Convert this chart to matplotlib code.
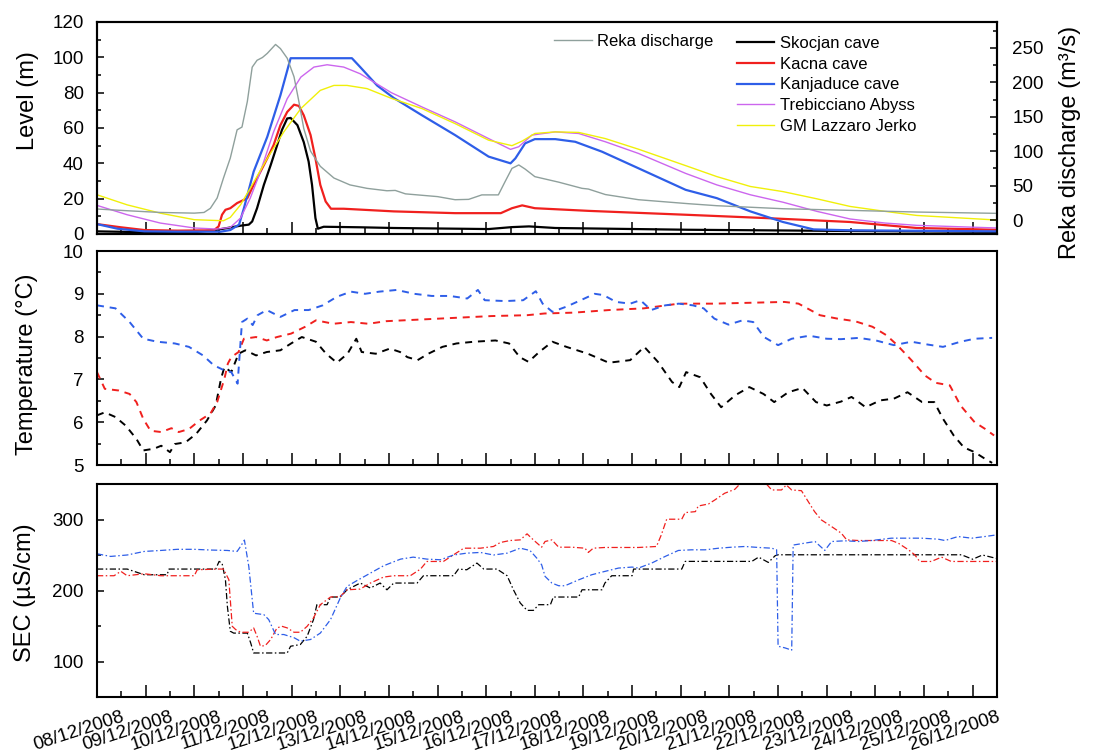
import matplotlib
matplotlib.use('Agg')
import matplotlib.pyplot as plt
from matplotlib.ticker import MultipleLocator
import matplotlib.transforms as mtransforms

plt.rcParams['font.family'] = ['Liberation Sans', 'DejaVu Sans']

# ---------------- data (x = days since 08/12/2008 00:00) ----------------
date_labels = ['08/12/2008', '09/12/2008', '10/12/2008', '11/12/2008', '12/12/2008',
               '13/12/2008', '14/12/2008', '15/12/2008', '16/12/2008', '17/12/2008',
               '18/12/2008', '19/12/2008', '20/12/2008', '21/12/2008', '22/12/2008',
               '23/12/2008', '24/12/2008', '25/12/2008', '26/12/2008']

# Reka discharge (m3/s)
reka_days = [0, 0.62, 1.3, 2.0, 2.2, 2.33, 2.47, 2.6, 2.74, 2.88, 2.98, 3.09, 3.19, 3.29, 3.4,
             3.5, 3.67, 3.77, 3.91, 4.05, 4.15, 4.25, 4.39, 4.59, 4.87, 5.2, 5.55, 5.96, 6.13, 6.34,
             7.0, 7.36, 7.64, 7.91, 8.25, 8.39, 8.53, 8.67, 8.8, 9.0, 9.49, 9.97, 10.1, 10.45, 11.13,
             12.16, 12.74, 14.1, 15.48, 16.85, 18.5]
reka_q = [16, 13.5, 11, 10, 11, 17, 32, 61, 90, 131, 135, 172, 222, 232, 236,
          242, 255, 249, 235, 208, 172, 133, 100, 78, 61, 51, 46, 42.5, 43, 38,
          34, 29.5, 30, 36.5, 36.5, 56, 75, 80, 74, 63, 55, 46, 45, 37, 29.5,
          23.7, 20.8, 16.4, 14, 11.6, 9.7]

# Levels (m)
sk_days = [0, 1.0, 2.0, 2.47, 2.68, 2.95, 3.12, 3.19, 3.29, 3.43, 3.57, 3.7, 3.8, 3.91, 3.98,
           4.12, 4.25, 4.35, 4.42, 4.49, 4.54, 4.66, 5.41, 6.1, 8.05, 8.53, 8.88, 9.42, 12.16, 15.0, 18.5]
sk_lvl = [1.5, 1.0, 1.0, 2.4, 3.4, 4.7, 5.3, 7.1, 14.6, 27.8, 39, 50, 58.8, 65.4, 65.7,
          61.6, 52, 41, 27.8, 9, 3, 4.1, 3.8, 3.4, 2.8, 3.9, 4.3, 3.4, 2.4, 1.8, 1.2]

ka_days = [0, 0.49, 0.97, 1.65, 2.4, 2.5, 2.57, 2.64, 2.74, 2.88, 2.98, 3.09, 3.22, 3.36, 3.5,
           3.63, 3.77, 3.91, 4.05, 4.15, 4.25, 4.39, 4.49, 4.59, 4.7, 4.81, 5.07, 6.1, 7.36, 8.3,
           8.53, 8.74, 9.0, 10.1, 12.1, 13.76, 15.48, 16.85, 18.5]
ka_lvl = [5.6, 3.8, 2.25, 1.9, 2.1, 4.3, 10.9, 13.7, 14.6, 17.5, 18.8, 20.3, 27.8, 35.3, 42.8,
          50.3, 61.6, 69.1, 73.2, 72.5, 67.2, 56, 42.8, 27.8, 18.4, 14.3, 14.3, 12.8, 11.8, 11.8,
          14.6, 16.2, 14.6, 13.1, 10.9, 9.0, 6.8, 3.4, 2.4]

kj_days = [0, 0.42, 0.97, 1.65, 2.54, 2.74, 2.92, 3.02, 3.22, 3.5, 3.77, 3.98, 5.24, 5.41, 5.76,
           6.1, 6.68, 7.36, 8.05, 8.5, 8.6, 8.8, 9.0, 9.42, 9.83, 10.38, 11.13, 12.1, 12.74, 13.43,
           14.1, 14.73, 15.48, 18.5]
kj_lvl = [5.6, 3.0, 1.5, 1.3, 1.3, 2.25, 5.3, 14.6, 35.3, 55, 78.5, 99.5, 99.5, 94.5, 84,
          77, 67.2, 56, 43.8, 40, 42.8, 51.3, 53.7, 53.7, 52.2, 46.6, 37.2, 25, 20.3, 12.8,
          6.8, 2.6, 2.1, 1.5]

tr_days = [0, 0.62, 1.3, 2.0, 2.47, 2.74, 2.95, 3.15, 3.36, 3.63, 3.91, 4.19, 4.46, 4.73, 5.07,
           5.41, 6.05, 6.68, 7.36, 8.05, 8.5, 8.67, 8.94, 9.42, 9.9, 10.45, 11.13, 12.1, 12.74, 13.43,
           14.1, 14.8, 15.48, 16.2, 16.85, 18.5]
tr_lvl = [16.2, 10.9, 6.2, 3.4, 2.8, 3.75, 9, 20.3, 35.3, 57.8, 76.6, 88.8, 94.5, 95.8, 94.5,
          90.7, 80, 71.9, 63.5, 54, 47.9, 49.4, 56, 57.8, 56.9, 52.2, 45.6, 34.3, 27.8, 22.2,
          18, 12.8, 8.5, 6.2, 4.9, 3.4]

gm_days = [0, 0.62, 1.3, 2.0, 2.6, 2.74, 2.95, 3.15, 3.5, 3.84, 4.19, 4.59, 4.87, 5.14, 5.55,
           6.05, 6.68, 7.36, 8.05, 8.53, 8.74, 9.0, 9.42, 9.9, 10.45, 11.13, 12.1, 12.74, 13.43, 14.1,
           14.8, 15.48, 16.2, 16.85, 18.5]
gm_lvl = [22.2, 16.5, 11.8, 8.1, 7.5, 9.4, 16.5, 25.9, 42.8, 57.8, 71, 81.3, 84.1, 84.1, 82.3,
          76.8, 71, 62.5, 53.1, 50, 52.6, 56.9, 57.8, 57.5, 54, 48, 38.7, 32.5, 26.9, 24,
          19.9, 15.6, 12.8, 10.5, 7.9]

# Temperature (degC)
tkj_days = [0, 0.38, 0.67, 0.95, 1.24, 1.6, 1.89, 2.18, 2.4, 2.62, 2.76, 2.89, 2.98, 3.09, 3.2,
            3.3, 3.49, 3.77, 4.06, 4.35, 4.64, 4.93, 5.22, 5.51, 5.8, 6.16, 6.52, 6.88, 7.25, 7.61,
            7.83, 7.97, 8.4, 8.76, 9.02, 9.16, 9.36, 9.65, 10.02, 10.23, 10.41, 10.67, 10.96, 11.17, 11.39,
            11.68, 11.96, 12.25, 12.47, 12.69, 12.98, 13.27, 13.49, 13.71, 14.0, 14.28, 14.64, 15.0, 15.29, 15.66,
            16.01, 16.38, 16.74, 17.1, 17.39, 17.75, 18.04, 18.4]
tkj_val = [8.73, 8.66, 8.34, 7.95, 7.88, 7.84, 7.76, 7.56, 7.33, 7.21, 7.17, 6.9, 8.34, 8.42, 8.27,
           8.5, 8.62, 8.46, 8.62, 8.62, 8.73, 8.93, 9.05, 9.0, 9.05, 9.09, 9.0, 8.95, 8.95, 8.89,
           9.09, 8.85, 8.83, 8.85, 9.06, 8.77, 8.58, 8.7, 8.89, 9.0, 8.97, 8.81, 8.77, 8.85, 8.62,
           8.73, 8.77, 8.73, 8.66, 8.42, 8.28, 8.38, 8.34, 7.99, 7.8, 7.95, 8.02, 7.95, 7.94, 7.97,
           7.91, 7.8, 7.88, 7.81, 7.76, 7.88, 7.95, 7.97]

tka_days = [0, 0.16, 0.45, 0.67, 0.81, 0.95, 1.1, 1.32, 1.53, 1.68, 1.89, 2.11, 2.33, 2.47, 2.62,
            2.69, 2.76, 2.91, 3.02, 3.27, 3.49, 3.7, 3.99, 4.28, 4.5, 4.86, 5.22, 5.58, 5.94, 6.3,
            6.67, 7.39, 8.11, 8.84, 9.2, 9.8, 10.52, 11.24, 11.96, 12.69, 13.41, 14.13, 14.42, 14.86, 15.22,
            15.58, 15.94, 16.23, 16.45, 16.74, 17.02, 17.24, 17.53, 17.75, 18.04, 18.26, 18.44]
tka_val = [7.17, 6.78, 6.74, 6.66, 6.47, 6.08, 5.8, 5.77, 5.86, 5.77, 5.84, 6.04, 6.2, 6.47, 7.02,
           7.37, 7.52, 7.64, 7.95, 7.99, 7.91, 7.99, 8.07, 8.23, 8.38, 8.3, 8.34, 8.3, 8.36, 8.38,
           8.4, 8.44, 8.48, 8.5, 8.54, 8.56, 8.62, 8.66, 8.77, 8.77, 8.79, 8.81, 8.77, 8.5, 8.42,
           8.36, 8.23, 8.03, 7.8, 7.45, 7.09, 6.92, 6.86, 6.39, 6.0, 5.84, 5.69]

tsk_days = [0, 0.16, 0.38, 0.59, 0.81, 0.95, 1.17, 1.32, 1.5, 1.6, 1.82, 2.04, 2.26, 2.44, 2.55,
            2.62, 2.76, 2.91, 3.05, 3.27, 3.49, 3.77, 3.99, 4.21, 4.5, 4.71, 4.93, 5.15, 5.33, 5.44,
            5.73, 6.02, 6.23, 6.38, 6.59, 6.81, 7.1, 7.39, 7.75, 8.19, 8.47, 8.69, 8.87, 9.09, 9.36,
            9.65, 10.09, 10.52, 10.96, 11.25, 11.53, 11.82, 11.97, 12.11, 12.4, 12.62, 12.83, 13.12, 13.41, 13.7,
            13.92, 14.21, 14.5, 14.78, 15.0, 15.29, 15.51, 15.8, 16.1, 16.38, 16.66, 16.96, 17.21, 17.39, 17.61,
            17.82, 18.04, 18.26, 18.4]
tsk_val = [6.16, 6.23, 6.12, 5.92, 5.61, 5.34, 5.38, 5.45, 5.3, 5.49, 5.53, 5.73, 6.04, 6.39, 7.02,
           7.29, 7.17, 7.6, 7.68, 7.56, 7.64, 7.68, 7.84, 7.99, 7.88, 7.6, 7.39, 7.6, 7.95, 7.64,
           7.6, 7.72, 7.64, 7.52, 7.45, 7.6, 7.76, 7.84, 7.88, 7.91, 7.84, 7.52, 7.41, 7.64, 7.88,
           7.76, 7.6, 7.39, 7.45, 7.76, 7.41, 6.94, 6.82, 7.17, 7.05, 6.66, 6.35, 6.63, 6.82, 6.66,
           6.47, 6.7, 6.8, 6.47, 6.39, 6.48, 6.59, 6.35, 6.51, 6.55, 6.7, 6.47, 6.47, 6.08, 5.69,
           5.41, 5.3, 5.14, 5.05]

# SEC (uS/cm)
ckj_days = [0, 0.28, 0.62, 0.97, 1.31, 1.65, 2.0, 2.33, 2.68, 2.88, 2.95, 3.03, 3.12, 3.22, 3.43,
            3.53, 3.67, 3.84, 4.05, 4.18, 4.39, 4.59, 4.8, 5.0, 5.14, 5.35, 5.62, 5.89, 6.24, 6.5,
            6.78, 7.06, 7.33, 7.6, 7.88, 8.15, 8.43, 8.7, 8.9, 9.04, 9.14, 9.21, 9.35, 9.49, 9.62,
            9.9, 10.17, 10.44, 10.72, 11.0, 11.13, 11.4, 11.68, 11.95, 12.22, 12.5, 12.78, 13.05, 13.32, 13.6,
            13.87, 13.97, 14.0, 14.14, 14.28, 14.31, 14.55, 14.76, 14.96, 15.1, 15.37, 15.65, 15.92, 16.33, 16.6,
            16.95, 17.29, 17.43, 17.7, 17.98, 18.25, 18.5]
ckj_val = [251.7, 248, 250, 255, 256.4, 258, 258, 257, 256.4, 255, 262, 271, 234, 168, 166,
           159, 138, 138, 133.5, 128.6, 131, 140, 159, 189.4, 205.8, 214.2, 224.5, 234.8, 244.2, 247,
           244.2, 243.3, 250, 252.6, 253.6, 250, 252.6, 259.6, 256.4, 245.6, 236.2, 219.9, 210.5, 206.7, 206.7,
           215, 222.2, 226.9, 231.6, 233, 231.6, 238.6, 248, 256.4, 257.3, 257.3, 259.6, 261, 262, 260.6,
           259.6, 257.3, 121.5, 119.2, 116, 264, 266.7, 269, 256.4, 269, 270, 269, 270.4, 273.7, 273.7,
           273.7, 272.3, 270.4, 276, 273.7, 276, 278.4]

cka_days = [0, 0.35, 0.49, 0.62, 0.97, 1.31, 2.0, 2.06, 2.47, 2.6, 2.71, 2.74, 2.78, 2.85, 2.95,
            3.12, 3.22, 3.29, 3.36, 3.46, 3.57, 3.7, 3.8, 3.91, 4.05, 4.18, 4.32, 4.45, 4.59, 4.8,
            5.0, 5.14, 5.41, 5.62, 5.89, 6.1, 6.44, 6.65, 6.78, 7.12, 7.33, 7.54, 7.88, 8.15, 8.29,
            8.49, 8.7, 8.84, 8.97, 9.14, 9.21, 9.35, 9.49, 9.76, 10.03, 10.1, 10.2, 10.44, 10.78, 11.13,
            11.5, 11.6, 11.71, 12.02, 12.09, 12.3, 12.36, 12.57, 12.7, 12.9, 13.11, 13.3, 13.5, 13.76, 13.87,
            14.07, 14.17, 14.28, 14.48, 14.62, 14.75, 14.89, 15.1, 15.3, 15.41, 15.65, 15.92, 16.33, 16.47, 16.68,
            16.81, 16.91, 17.15, 17.36, 17.56, 17.98, 18.5]
cka_val = [220.8, 220.8, 227, 220.8, 223.6, 220.8, 220.8, 229.2, 230.2, 230.2, 215.2, 187, 149.6, 145, 141.2,
           141.2, 147.3, 135.6, 121.5, 122.5, 131, 147.3, 149.6, 147.3, 141.2, 141.2, 149.6, 161.3, 180, 190.8,
           191.7, 201, 202, 210.5, 218.9, 220.8, 220.8, 230.2, 240.9, 240.9, 250.3, 259.6, 259.6, 262, 267.6,
           270.4, 271.3, 279.8, 271.3, 261, 269, 271.3, 261, 261, 259.6, 253.6, 259.6, 260.6, 260.6, 260.6,
           262, 278.4, 300.4, 300.4, 309.7, 311.1, 319, 321.9, 327.5, 336.9, 342.5, 356, 358, 350, 341.6,
           341.6, 348.6, 341.6, 340.6, 325.2, 311.1, 299.4, 290, 280.7, 271.3, 270.4, 270.4, 270.4, 266.7, 257.3,
           250.3, 240.9, 240.9, 247, 240.9, 240.9, 240.9]

csk_days = [0, 0.62, 0.97, 1.44, 1.48, 2.0, 2.44, 2.51, 2.57, 2.64, 2.68, 2.74, 2.81, 3.09, 3.16,
            3.22, 3.57, 3.91, 3.98, 4.18, 4.32, 4.45, 4.52, 4.73, 4.8, 5.0, 5.14, 5.41, 5.62, 5.82,
            5.96, 6.1, 6.58, 6.71, 7.33, 7.43, 7.6, 7.81, 7.95, 8.22, 8.43, 8.56, 8.7, 8.84, 8.97,
            9.08, 9.32, 9.38, 9.9, 9.97, 10.38, 10.44, 10.58, 11.0, 11.03, 12.02, 12.09, 13.46, 13.6, 13.8,
            13.94, 14.0, 16.6, 17.77, 18.0, 18.2, 18.5]
csk_val = [230.2, 230.2, 222.2, 222.2, 230.2, 230.2, 230.2, 241, 238.6, 215.2, 177.7, 142.6, 140, 140, 126,
           112, 112, 112, 121.5, 123.9, 135.6, 159, 180, 180, 190.8, 190.8, 201, 210.5, 203.5, 210.5,
           201, 210.5, 210.5, 220.8, 220.8, 230.2, 229.2, 238.6, 230.2, 230.2, 220.8, 201, 182.4, 172, 172,
           180, 180, 190.8, 190.8, 201, 201, 210.5, 220.8, 220.8, 230.2, 230.2, 241, 241, 247, 239.5,
           249, 250.3, 250.3, 250.3, 244, 250, 245]

# ---------------- styling ----------------
C_BLACK = '#000000'
C_RED = '#f0201e'
C_BLUE = '#2e5ee8'
C_MAG = '#cc66ee'
C_YEL = '#f0f00a'
C_GRAY = '#8fa09c'

W, H = 1095, 756
fig = plt.figure(figsize=(W / 100, H / 100), dpi=100)


def box(top, bottom, left=97, right=997):
    return [left / W, 1 - bottom / H, (right - left) / W, (bottom - top) / H]


ax1 = fig.add_axes(box(22, 234))
ax2 = fig.add_axes(box(251, 465))
ax3 = fig.add_axes(box(484, 697))

TICK_FS = 13.5
LABEL_FS = 17


def style(ax):
    ax.set_xlim(0, 18.5)
    ax.xaxis.set_major_locator(MultipleLocator(1))
    ax.xaxis.set_minor_locator(MultipleLocator(0.5))
    ax.tick_params(axis='x', which='major', direction='in', length=8.5, width=1.1,
                   top=False, bottom=True)
    ax.tick_params(axis='x', which='minor', direction='in', length=4.3, width=1.1,
                   top=False, bottom=True)
    ax.tick_params(axis='y', which='major', direction='in', length=5, width=1.1,
                   right=False, labelsize=TICK_FS, pad=9.5)
    ax.tick_params(axis='y', which='minor', direction='in', length=3, width=1.1, right=False)
    for s in ax.spines.values():
        s.set_linewidth(1.5)


for a in (ax1, ax2, ax3):
    style(a)

# ---- top panel ----
ax1.plot(sk_days, sk_lvl, color=C_BLACK, lw=1.6, label='Skocjan cave')
ax1.plot(ka_days, ka_lvl, color=C_RED, lw=1.6, label='Kacna cave')
ax1.plot(kj_days, kj_lvl, color=C_BLUE, lw=1.6, label='Kanjaduce cave')
ax1.plot(tr_days, tr_lvl, color=C_MAG, lw=1.0, label='Trebicciano Abyss')
ax1.plot(gm_days, gm_lvl, color=C_YEL, lw=1.0, label='GM Lazzaro Jerko')
ax1.set_ylim(0, 120)
ax1.yaxis.set_major_locator(MultipleLocator(20))
ax1.yaxis.set_minor_locator(MultipleLocator(10))
ax1.tick_params(axis='x', labelbottom=False)

ax1r = ax1.twinx()
ax1r.plot(reka_days, reka_q, color=C_GRAY, lw=1.0, label='Reka discharge')
ax1r.set_ylim(-20.3, 287.6)
ax1r.yaxis.set_major_locator(MultipleLocator(50))
ax1r.yaxis.set_minor_locator(MultipleLocator(25))
ax1r.tick_params(axis='y', which='major', direction='in', length=5, width=1.1,
                 labelsize=TICK_FS, pad=11)
ax1r.tick_params(axis='y', which='minor', direction='in', length=3, width=1.1)
for s in ax1r.spines.values():
    s.set_linewidth(1.5)

leg = ax1.legend(loc='upper left', bbox_to_anchor=(737 / W, 1 - 36 / H),
                 bbox_transform=fig.transFigure, frameon=False, fontsize=12,
                 handlelength=2.2, handletextpad=0.4, labelspacing=0.34,
                 borderpad=0, borderaxespad=0)
leg2 = ax1r.legend(loc='upper left', bbox_to_anchor=(554 / W, 1 - 34 / H),
                   bbox_transform=fig.transFigure, frameon=False, fontsize=12,
                   handlelength=2.3, handletextpad=0.3, borderpad=0, borderaxespad=0)

# ---- middle panel ----
dash = (0, (3.6, 3.0))
ax2.plot(tsk_days, tsk_val, color=C_BLACK, lw=1.4, linestyle=dash)
ax2.plot(tka_days, tka_val, color=C_RED, lw=1.4, linestyle=dash)
ax2.plot(tkj_days, tkj_val, color=C_BLUE, lw=1.4, linestyle=dash)
ax2.set_ylim(5, 10)
ax2.yaxis.set_major_locator(MultipleLocator(1))
ax2.yaxis.set_minor_locator(MultipleLocator(0.5))
ax2.tick_params(axis='x', labelbottom=False)

# ---- bottom panel ----
dashdot = (0, (5, 2, 1.2, 2))
ax3.plot(csk_days, csk_val, color=C_BLACK, lw=0.9, linestyle=dashdot)
ax3.plot(cka_days, cka_val, color=C_RED, lw=0.9, linestyle=dashdot)
ax3.plot(ckj_days, ckj_val, color=C_BLUE, lw=0.9, linestyle=dashdot)
ax3.set_ylim(50, 350)
ax3.yaxis.set_major_locator(MultipleLocator(100))
ax3.yaxis.set_minor_locator(MultipleLocator(50))
ax3.set_xticks(range(len(date_labels)))
ax3.set_xticklabels(date_labels, rotation=18, ha='right', va='top',
                    rotation_mode='anchor', fontsize=TICK_FS)
ax3.tick_params(axis='x', which='major', pad=8)
offset = mtransforms.ScaledTranslation(0.24, 0, fig.dpi_scale_trans)
for lab in ax3.get_xticklabels():
    lab.set_transform(lab.get_transform() + offset)

# ---- axis titles ----
fig.text(28 / W, 1 - 101 / H, 'Level (m)', rotation=90, ha='center', va='center', fontsize=LABEL_FS)
fig.text(27 / W, 1 - 364 / H, 'Temperature (°C)', rotation=90, ha='center', va='center', fontsize=LABEL_FS)
fig.text(25 / W, 1 - 593 / H, 'SEC (µS/cm)', rotation=90, ha='center', va='center', fontsize=LABEL_FS)
fig.text(1070 / W, 1 - 142 / H, 'Reka discharge (m³/s)', rotation=90, ha='center', va='center',
         fontsize=LABEL_FS)

fig.savefig('out.png', dpi=100)
